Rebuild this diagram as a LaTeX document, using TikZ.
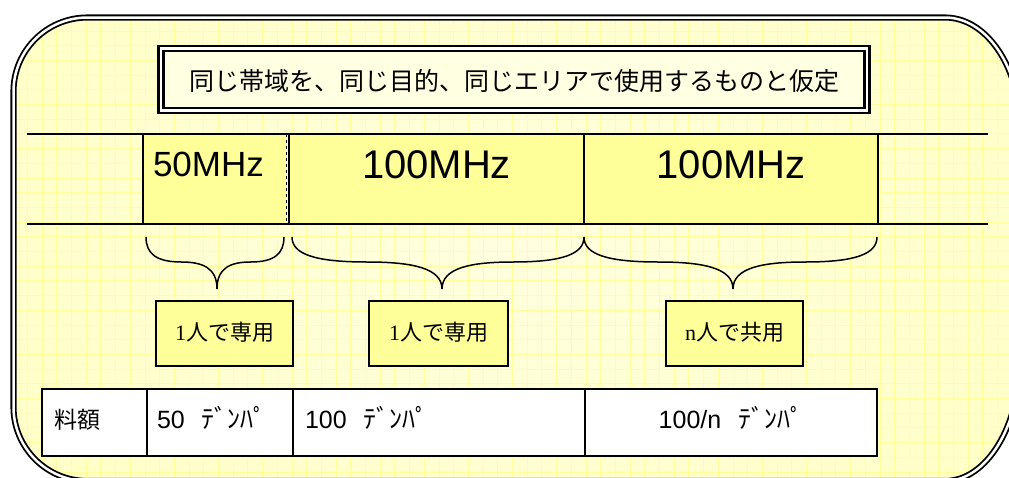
\documentclass[tikz,border=0pt]{standalone}
\usepackage{fontspec}
\setmainfont{Liberation Sans}
\newfontfamily\jpfont{Noto Sans CJK JP}
\newfontfamily\serfont{Liberation Serif}
\definecolor{bgyel}{HTML}{FFFFCC}
\definecolor{bginner}{HTML}{FFFFE0}
\definecolor{bgouter}{HTML}{FFFFC6}
\definecolor{gridyel}{HTML}{FFFF9C}
\definecolor{bandyel}{HTML}{FFFF99}
\definecolor{titleyel}{HTML}{FFFFE2}
\newcommand\framepath{(13.5,91.5) arc[start angle=180,end angle=270,radius=74] -- (945,17.5) arc[start angle=270,end angle=360,x radius=75,y radius=110] -- (1020,359) arc[start angle=0,end angle=90,x radius=75,y radius=122] -- (87.5,481) arc[start angle=90,end angle=180,radius=74] -- cycle}
\newcommand\curlybrace[3]{%
  \draw[bracestyle] (#1,237) .. controls (#1,254) and ({#1+0.15*(#2-#1)},262) .. ({#1+0.5*(#2-#1)},262)
    .. controls ({#1+0.8*(#2-#1)},262) and (#2,268) .. (#2,289)
    .. controls (#2,268) and ({#3-0.8*(#3-#2)},262) .. ({#3-0.5*(#3-#2)},262)
    .. controls ({#3-0.15*(#3-#2)},262) and (#3,254) .. (#3,237);}
\newcommand\denpa{{\jpfont\fontsize{26pt}{28pt}\selectfont ﾃﾞﾝﾊﾟ}}
\begin{document}
\begin{tikzpicture}[x=1pt,y=-1pt,
  frame/.style={draw=black, double=white, double distance=2.5pt, line width=1.8pt},
  gridline/.style={draw=gridyel, line width=0.8pt},
  bandline/.style={draw=black, line width=1.8pt},
  bandbox/.style={fill=bandyel, draw=none, inner ysep=0pt, outer sep=0pt, anchor=north west, minimum height=90pt, inner xsep=10pt},
  bracestyle/.style={draw=black, line width=1.5pt},
  usebox/.style={fill=bandyel, draw=black, line width=1.6pt, outer sep=0pt, inner sep=0pt, minimum height=65pt, text height=18pt, text depth=4pt, font=\fontsize{22pt}{24pt}\selectfont},
  cell/.style={fill=white, draw=black, line width=2pt, outer sep=0pt, anchor=north west, minimum height=67pt, inner ysep=0pt, text height=20pt, text depth=9pt, font=\fontsize{25pt}{28pt}\selectfont},
  titlebox/.style={fill=titleyel, draw=black, double=white, double distance=2.5pt, line width=2.5pt, outer sep=0pt, inner sep=0pt, minimum width=706pt, minimum height=62pt, text height=24pt, text depth=2.4pt, font=\jpfont\fontsize{25pt}{28pt}\selectfont}
]
\useasboundingbox (0,0) rectangle (1009,477);
\clip (0,0) rectangle (1009,477);
% background frame with grid
\begin{scope}
  \clip \framepath;
  \shade[inner color=bginner, outer color=bgouter] (-100,-150) rectangle (1130,630);
  \foreach \k in {-2,...,68} \draw[gridline] ({27.3+\k*14.7},0) -- ({27.3+\k*14.7},490);
  \foreach \k in {0,...,33} \draw[gridline] (0,{1.5+\k*14.7}) -- (1030,{1.5+\k*14.7});
\end{scope}
\draw[frame] \framepath;
% title
\node[titlebox] (title) at (514,79.5) {同じ帯域を、同じ目的、同じエリアで使用するものと仮定};
% band boxes
\node[bandbox, text width=123pt, align=left, text height=25pt, text depth=31pt, font=\fontsize{35pt}{37pt}\selectfont] (b1) at (143,134) {50MHz};
\node[bandbox, text width=275pt, align=center, text height=29pt, text depth=31pt, font=\fontsize{40pt}{42pt}\selectfont] (b2) at (289,134) {100MHz};
\node[bandbox, text width=274pt, align=center, text height=29pt, text depth=31pt, font=\fontsize{40pt}{42pt}\selectfont] (b3) at (584,134) {100MHz};
\coordinate (tl) at (27,134);
\coordinate (tr) at (988,134);
\coordinate (bl) at (27,224);
\coordinate (br) at (988,224);
\draw[bandline] (tl) -- (tr);
\draw[bandline] (bl) -- (br);
\draw[bandline] (b1.north west) -- (b1.south west);
\draw[black, line width=0.6pt, dashed] (b1.north east) -- (b1.south east);
\draw[bandline] (b2.north west) -- (b2.south west);
\draw[bandline] (b3.north west) -- (b3.south west);
\draw[bandline] (b3.north east) -- (b3.south east);
% braces
\curlybrace{146}{217}{284}
\curlybrace{292}{442}{584}
\curlybrace{584}{733}{877}
% usage boxes
\node[usebox, minimum width=137pt] (u1) at (224.5,333.5) {{\serfont 1}{\jpfont 人で専用}};
\node[usebox, minimum width=139pt] (u2) at (438.5,333.5) {{\serfont 1}{\jpfont 人で専用}};
\node[usebox, minimum width=137pt] (u3) at (734.5,333.5) {{\serfont n}{\jpfont 人で共用}};
% fee table
\node[cell, inner xsep=12pt, text width=81pt, align=left] (c1) at (42,389) {{\jpfont\fontsize{23pt}{26pt}\selectfont 料額}};
\node[cell, inner xsep=10pt, text width=126pt, align=left] (c2) at (147,389) {50\hspace{17pt}\denpa};
\node[cell, inner xsep=12pt, text width=268pt, align=left] (c3) at (293,389) {100\hspace{17pt}\denpa};
\node[cell, inner xsep=12pt, text width=268pt, align=center] (c4) at (585,389) {100/n\hspace{17pt}\denpa};
\end{tikzpicture}
\end{document}
